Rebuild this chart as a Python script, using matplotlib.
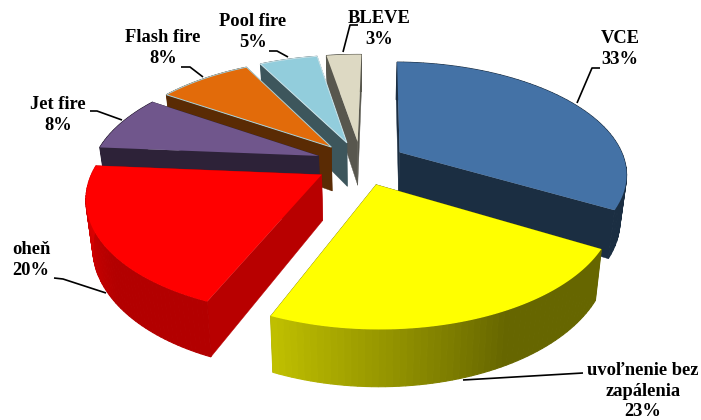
import numpy as np
import matplotlib
matplotlib.use("Agg")
import matplotlib.pyplot as plt

labels = ["VCE\n33%", "uvoľnenie bez\nzapálenia\n23%", "oheň\n20%", "Jet fire\n8%",
          "Flash fire\n8%", "Pool fire\n5%", "BLEVE\n3%"]
values = [33, 23, 20, 8, 8, 5, 3]

top_colors = ["#4472A6", "#FFFF00", "#FF0000", "#70568C", "#E26B0A", "#92CDDC", "#DDD9C3"]
# how dark the wall gets, at start and end of the slice arc
wall_light = [(.40, .40), (.40, .75), (.70, .90), (.40, .40), (.40, .40), (.42, .42), (.40, .40)]
radial_light = [.40, .40, .72, .40, .40, .42, .40]
edge_colors = ["none", "none", "none", "none", "#A9D3DE", "#CFE6EC", "none"]

label_pos = [(620, 49), (643, 391), (31, 260), (58, 115), (163, 48), (253, 32), (379, 29)]
leaders = [
    [(577, 103), (592, 68), (600, 68)],
    [(463, 380), (583, 373)],
    [(106, 293), (63, 279), (54, 278)],
    [(122, 120), (97, 111), (90, 111)],
    [(203, 77), (190, 67), (181, 67)],
    [(288, 57), (277, 51), (269, 51)],
    [(343, 52), (350, 25), (358, 25)],
]

CX, CY = 361, 163
RX, RY = 226, 110
PERSP = .18
EXPLODE = .2
DEPTH = 45
SHRINK = .025
ROTATION = np.radians(1)
GRADIENT_START = .4


def project(u, v):
    p = 1 / (1 - PERSP * v)
    return CX + RX * u * p, CY + RY * v * p, p


def lower(x, y, p):
    return CX + (x - CX) * (1 - SHRINK), y + DEPTH * p


def shade(color, f):
    return tuple(c * f for c in matplotlib.colors.to_rgb(color))


fig = plt.figure(figsize=(7.01, 4.2), dpi=100)
ax = fig.add_axes([0, 0, 1, 1])
ax.set_xlim(0, 701)
ax.set_ylim(420, 0)
ax.axis("off")

edges = np.cumsum([0] + values) / sum(values) * 2 * np.pi + ROTATION
mids = (edges[:-1] + edges[1:]) / 2

# back slices first
for i in np.argsort(-np.cos(mids)):
    a = np.linspace(edges[i], edges[i + 1], 60)
    ou, ov = EXPLODE * np.sin(mids[i]), -EXPLODE * np.cos(mids[i])
    x, y, p = project(ou + np.sin(a), ov - np.cos(a))
    ax_, ay_, ap_ = project(ou, ov)
    lx, ly = lower(x, y, p)
    alx, aly = lower(ax_, ay_, ap_)
    col = top_colors[i]

    wall = shade(col, radial_light[i])
    for j in (0, -1):
        ax.fill([ax_, x[j], lx[j], alx], [ay_, y[j], ly[j], aly], color=wall, lw=.3)

    for j in range(len(a) - 1):
        t = max(0, j / (len(a) - 2) - GRADIENT_START) / (1 - GRADIENT_START)
        f = wall_light[i][0] + (wall_light[i][1] - wall_light[i][0]) * t
        ax.fill([x[j], x[j + 1], lx[j + 1], lx[j]], [y[j], y[j + 1], ly[j + 1], ly[j]],
                color=shade(col, f), lw=.8)

    ax.fill(np.r_[ax_, x], np.r_[ay_, y], facecolor=col, edgecolor=edge_colors[i], lw=.7)

for line in leaders:
    xs, ys = zip(*line)
    ax.plot(xs, ys, color="black", lw=1.2, solid_capstyle="butt")

for text, (tx, ty) in zip(labels, label_pos):
    ax.text(tx, ty, text, ha="center", va="center", family="Liberation Serif",
            weight="bold", fontsize=13.3, linespacing=1.25, color="black")

fig.savefig("out.png", dpi=100)
